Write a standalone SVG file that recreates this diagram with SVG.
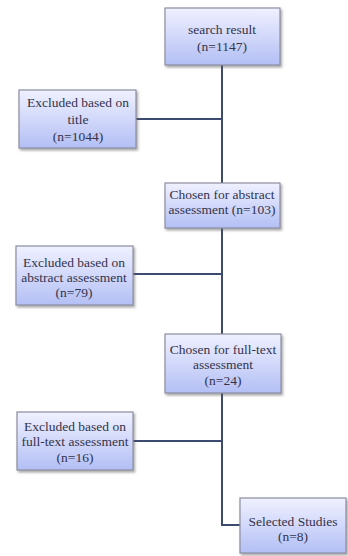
<svg xmlns="http://www.w3.org/2000/svg" width="348" height="556" viewBox="0 0 348 556">
<defs>
<linearGradient id="g" x1="0" y1="0" x2="0" y2="1">
<stop offset="0" stop-color="#f0f1ff"/>
<stop offset="1" stop-color="#b3bff5"/>
</linearGradient>
<filter id="sh" x="-10%" y="-10%" width="130%" height="130%">
<feDropShadow dx="1.5" dy="2" stdDeviation="1" flood-color="#555" flood-opacity="0.5"/>
</filter>
</defs>
<style>
.box{fill:url(#g);stroke:#8c8ea0;stroke-width:1.2;filter:url(#sh)}
.t{font-family:"Liberation Serif","Times New Roman",serif;font-size:13.5px;fill:#33334a;text-anchor:middle}
.c{fill:none;stroke:#3e4b70;stroke-width:2}
</style>
<rect width="348" height="556" fill="#fff"/>
<g id="connectors">
<path class="c" d="M222 65 V183"/>
<path class="c" d="M222 228 V334"/>
<path class="c" d="M222 393 V525 H240"/>
<path class="c" d="M136 119 H222"/>
<path class="c" d="M133 274 H222"/>
<path class="c" d="M133 441 H222"/>
</g>
<g id="search">
<rect class="box" x="165" y="8" width="115" height="57"/>
<text class="t" x="222" y="34">search result</text>
<text class="t" x="222" y="51">(n=1147)</text>
</g>
<g id="excl-title">
<rect class="box" x="19" y="90" width="117" height="58"/>
<text class="t" x="78" y="107">Excluded based on</text>
<text class="t" x="78" y="124">title</text>
<text class="t" x="78" y="141">(n=1044)</text>
</g>
<g id="chosen-abstract">
<rect class="box" x="165" y="183" width="115" height="45"/>
<text class="t" x="222" y="199">Chosen for abstract</text>
<text class="t" x="222" y="214">assessment (n=103)</text>
</g>
<g id="excl-abstract">
<rect class="box" x="16" y="246" width="117" height="59"/>
<text class="t" x="74" y="267">Excluded based on</text>
<text class="t" x="74" y="282">abstract assessment</text>
<text class="t" x="74" y="297">(n=79)</text>
</g>
<g id="chosen-full">
<rect class="box" x="165" y="334" width="116" height="59"/>
<text class="t" x="223" y="354">Chosen for full-text</text>
<text class="t" x="223" y="369">assessment</text>
<text class="t" x="223" y="385">(n=24)</text>
</g>
<g id="excl-full">
<rect class="box" x="17" y="412" width="116" height="58"/>
<text class="t" x="75" y="431">Excluded based on</text>
<text class="t" x="75" y="446">full-text assessment</text>
<text class="t" x="75" y="462">(n=16)</text>
</g>
<g id="selected">
<rect class="box" x="240" y="498" width="106" height="55"/>
<text class="t" x="293" y="526">Selected Studies</text>
<text class="t" x="293" y="541">(n=8)</text>
</g>
</svg>
